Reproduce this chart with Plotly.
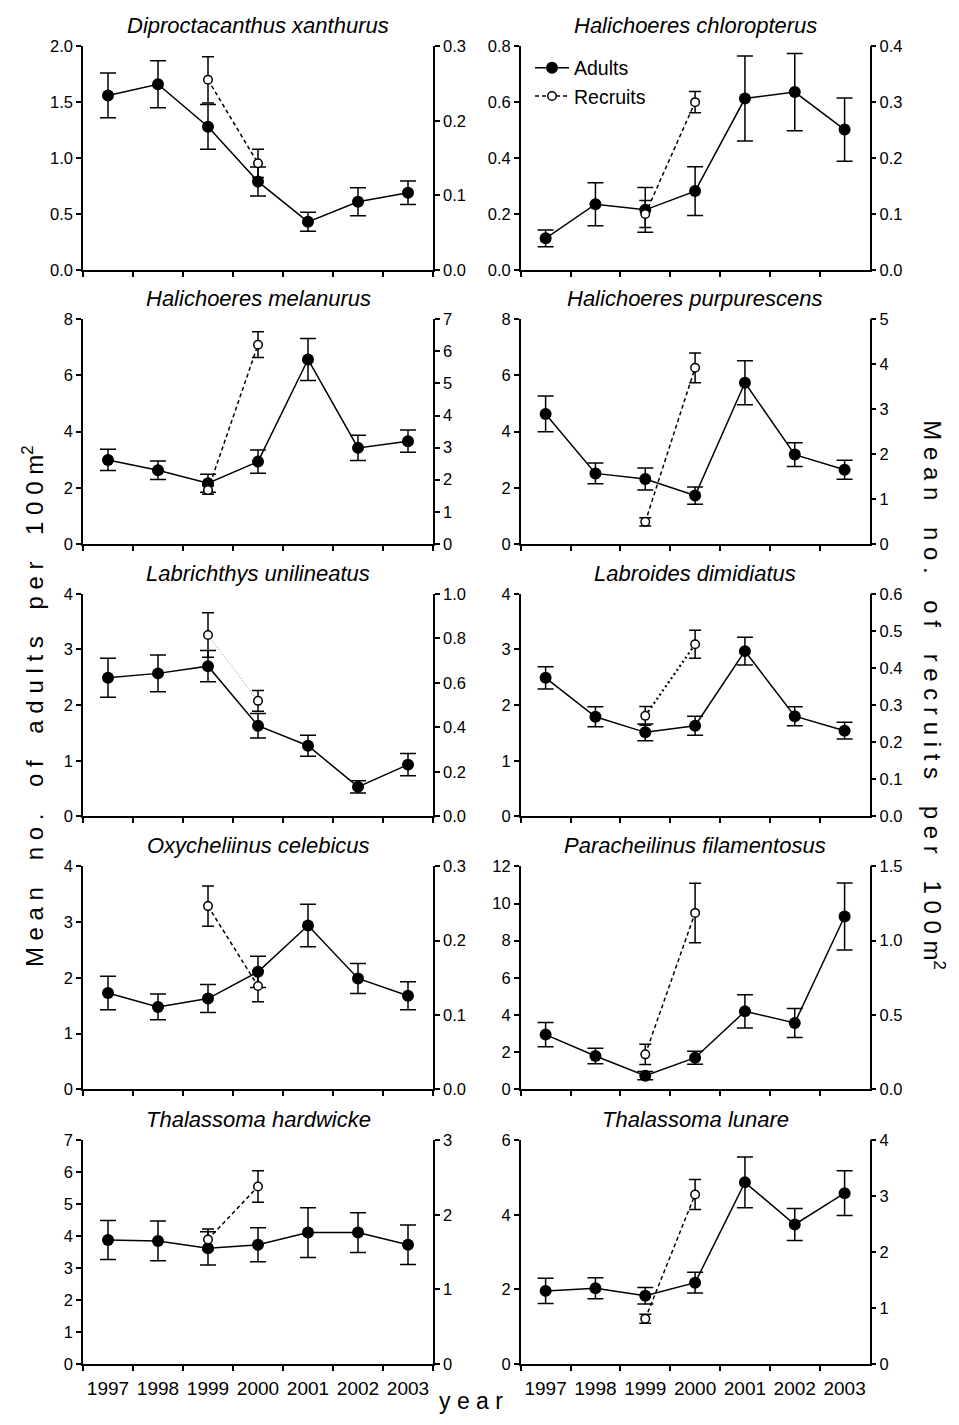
import plotly.graph_objects as go

# Survey years (x categories) and the two years in which recruits were counted
years = ["1997", "1998", "1999", "2000", "2001", "2002", "2003"]
recruit_years = ["1999", "2000"]

# Mean density (per 100 m^2) and standard error, one set of lists per species
dx_adults = [1.56, 1.66, 1.28, 0.79, 0.43, 0.61, 0.69]
dx_adults_se = [0.20, 0.21, 0.20, 0.13, 0.085, 0.125, 0.105]
dx_recruits = [0.255, 0.143]
dx_recruits_se = [0.031, 0.019]

hc_adults = [0.113, 0.235, 0.215, 0.282, 0.613, 0.636, 0.502]
hc_adults_se = [0.03, 0.077, 0.08, 0.087, 0.152, 0.138, 0.113]
hc_recruits = [0.10, 0.30]
hc_recruits_se = [0.024, 0.019]

hm_adults = [2.99, 2.62, 2.16, 2.93, 6.57, 3.42, 3.66]
hm_adults_se = [0.38, 0.33, 0.32, 0.41, 0.75, 0.45, 0.40]
hm_recruits = [1.68, 6.21]
hm_recruits_se = [0.13, 0.40]

hp_adults = [4.63, 2.51, 2.31, 1.72, 5.74, 3.18, 2.64]
hp_adults_se = [0.64, 0.37, 0.39, 0.31, 0.78, 0.42, 0.34]
hp_recruits = [0.49, 3.92]
hp_recruits_se = [0.09, 0.33]

lu_adults = [2.49, 2.57, 2.70, 1.63, 1.27, 0.53, 0.93]
lu_adults_se = [0.35, 0.33, 0.28, 0.22, 0.19, 0.11, 0.20]
lu_recruits = [0.815, 0.519]
lu_recruits_se = [0.10, 0.047]

ld_adults = [2.49, 1.79, 1.51, 1.63, 2.97, 1.80, 1.54]
ld_adults_se = [0.20, 0.18, 0.15, 0.17, 0.25, 0.17, 0.15]
ld_recruits = [0.271, 0.464]
ld_recruits_se = [0.025, 0.038]

oc_adults = [1.73, 1.48, 1.63, 2.11, 2.94, 1.99, 1.68]
oc_adults_se = [0.30, 0.23, 0.25, 0.28, 0.38, 0.27, 0.25]
oc_recruits = [0.2465, 0.139]
oc_recruits_se = [0.027, 0.021]

pf_adults = [2.95, 1.80, 0.74, 1.71, 4.20, 3.58, 9.30]
pf_adults_se = [0.65, 0.42, 0.22, 0.35, 0.90, 0.78, 1.80]
pf_recruits = [0.236, 1.187]
pf_recruits_se = [0.068, 0.20]

th_adults = [3.88, 3.85, 3.62, 3.73, 4.11, 4.11, 3.73]
th_adults_se = [0.61, 0.62, 0.52, 0.53, 0.78, 0.62, 0.62]
th_recruits = [1.67, 2.38]
th_recruits_se = [0.14, 0.21]

tl_adults = [1.96, 2.03, 1.83, 2.18, 4.87, 3.74, 4.58]
tl_adults_se = [0.34, 0.28, 0.22, 0.28, 0.68, 0.43, 0.60]
tl_recruits = [0.81, 3.03]
tl_recruits_se = [0.08, 0.27]

# name, series, left axis (max, step, format), right axis (max, step, format), recruit line style
panels = [
    ("Diproctacanthus xanthurus", dx_adults, dx_adults_se, dx_recruits, dx_recruits_se,
     (2.0, 0.5, ".1f"), (0.3, 0.1, ".1f"), ("4px,3px", 1.5, "black")),
    ("Halichoeres chloropterus", hc_adults, hc_adults_se, hc_recruits, hc_recruits_se,
     (0.8, 0.2, ".1f"), (0.4, 0.1, ".1f"), ("4px,3px", 1.5, "black")),
    ("Halichoeres melanurus", hm_adults, hm_adults_se, hm_recruits, hm_recruits_se,
     (8, 2, "d"), (7, 1, "d"), ("4px,3px", 1.5, "black")),
    ("Halichoeres purpurescens", hp_adults, hp_adults_se, hp_recruits, hp_recruits_se,
     (8, 2, "d"), (5, 1, "d"), ("4px,3px", 1.5, "black")),
    ("Labrichthys unilineatus", lu_adults, lu_adults_se, lu_recruits, lu_recruits_se,
     (4, 1, "d"), (1.0, 0.2, ".1f"), ("1px,2px", 0.8, "#666666")),
    ("Labroides dimidiatus", ld_adults, ld_adults_se, ld_recruits, ld_recruits_se,
     (4, 1, "d"), (0.6, 0.1, ".1f"), ("2px,3px", 2.2, "black")),
    ("Oxycheliinus celebicus", oc_adults, oc_adults_se, oc_recruits, oc_recruits_se,
     (4, 1, "d"), (0.3, 0.1, ".1f"), ("4px,3px", 1.5, "black")),
    ("Paracheilinus filamentosus", pf_adults, pf_adults_se, pf_recruits, pf_recruits_se,
     (12, 2, "d"), (1.5, 0.5, ".1f"), ("4px,3px", 1.5, "black")),
    ("Thalassoma hardwicke", th_adults, th_adults_se, th_recruits, th_recruits_se,
     (7, 1, "d"), (3, 1, "d"), ("4px,3px", 1.5, "black")),
    ("Thalassoma lunare", tl_adults, tl_adults_se, tl_recruits, tl_recruits_se,
     (6, 2, "d"), (4, 1, "d"), ("4px,3px", 1.5, "black")),
]

W, H = 959, 1425
FONT = "Liberation Sans, Arial, Helvetica, sans-serif"
col_px = [(83, 433), (520.7, 869.5)]
row_px = [(37.7, 264.3), (314.3, 541.7), (592.3, 817.7), (868.3, 1094.3), (1145.7, 1372.3)]

fig = go.Figure()
layout = {}
annotations = []

for i, (name, ad, ad_se, rc, rc_se, lax, rax, rstyle) in enumerate(panels):
    row, col = divmod(i, 2)
    xn = i + 1
    yl = 2 * i + 1
    yr = 2 * i + 2
    xs = "" if xn == 1 else str(xn)
    yls = "" if yl == 1 else str(yl)
    yrs = str(yr)
    x0, x1 = col_px[col]
    top, bottom = row_px[row]
    xdom = [x0 / W, x1 / W]
    ydom = [1 - bottom / H, 1 - top / H]

    bottom_row = row == 4
    layout["xaxis" + xs] = dict(
        domain=xdom, anchor="y" + yls, type="category",
        categoryorder="array", categoryarray=years,
        range=[-0.5, 6.5], tickson="boundaries",
        ticks="outside", ticklen=5, tickwidth=1.5, tickcolor="black",
        showline=True, linewidth=1.5, linecolor="black",
        showgrid=False, zeroline=False,
        showticklabels=bottom_row, tickangle=0, ticklabelstandoff=6,
        tickfont=dict(family=FONT, size=19, color="black"),
    )
    lmax, lstep, lfmt = lax
    layout["yaxis" + yls] = dict(
        domain=ydom, anchor="x" + xs, side="left",
        range=[0, lmax], tick0=0, dtick=lstep, tickformat=lfmt,
        ticks="outside", ticklen=5, tickwidth=1.5, tickcolor="black",
        showline=True, linewidth=1.5, linecolor="black",
        showgrid=False, zeroline=False,
        tickfont=dict(family=FONT, size=16.5, color="black"),
    )
    rmax, rstep, rfmt = rax
    layout["yaxis" + yrs] = dict(
        overlaying="y" + yls, anchor="x" + xs, side="right",
        range=[0, rmax], tick0=0, dtick=rstep, tickformat=rfmt,
        ticks="outside", ticklen=5, tickwidth=1.5, tickcolor="black",
        showline=True, linewidth=1.5, linecolor="black",
        showgrid=False, zeroline=False,
        tickfont=dict(family=FONT, size=16.5, color="black"),
    )

    legend_panel = i == 1
    fig.add_trace(go.Scatter(
        x=years, y=ad, xaxis="x" + xs, yaxis="y" + yls,
        mode="lines+markers", name="Adults",
        showlegend=legend_panel, legendgroup="adults",
        line=dict(color="black", width=1.5),
        marker=dict(symbol="circle", size=12, color="black"),
        error_y=dict(type="data", array=ad_se, visible=True,
                     color="black", thickness=1.5, width=8),
        cliponaxis=False,
    ))
    dash, dwidth, dcolor = rstyle
    fig.add_trace(go.Scatter(
        x=recruit_years, y=rc, xaxis="x" + xs, yaxis="y" + yrs,
        mode="lines+markers", name="Recruits",
        showlegend=legend_panel, legendgroup="recruits",
        line=dict(color=dcolor, width=dwidth, dash=dash),
        marker=dict(symbol="circle", size=8.5, color="white",
                    line=dict(color="black", width=1.5)),
        error_y=dict(type="data", array=rc_se, visible=True,
                     color="black", thickness=1.5, width=6),
        cliponaxis=False,
    ))

    annotations.append(dict(
        text="<i>" + name + "</i>", xref="paper", yref="paper",
        x=(x0 + x1) / 2 / W, y=1 - top / H, xanchor="center", yanchor="bottom",
        yshift=6, showarrow=False,
        font=dict(family=FONT, size=22, color="black"),
    ))

sp = "\u00a0"
def spaced(words):
    return (sp * 4).join(sp.join(list(w)) for w in words)

annotations.append(dict(
    text=spaced(["Mean", "no.", "of", "adults", "per", "100m"]) + "<sup>2</sup>",
    xref="paper", yref="paper", x=33 / W, y=1 - 706 / H,
    xanchor="center", yanchor="middle", textangle=-90, showarrow=False,
    font=dict(family=FONT, size=24, color="black"),
))
annotations.append(dict(
    text=spaced(["Mean", "no.", "of", "recruits", "per", "100m"]) + "<sup>2</sup>",
    xref="paper", yref="paper", x=934 / W, y=1 - 695 / H,
    xanchor="center", yanchor="middle", textangle=90, showarrow=False,
    font=dict(family=FONT, size=24, color="black"),
))
annotations.append(dict(
    text=spaced(["year"]),
    xref="paper", yref="paper", x=471 / W, y=1 - 1410 / H,
    xanchor="center", yanchor="middle", showarrow=False,
    font=dict(family=FONT, size=23, color="black"),
))

fig.update_layout(
    width=W, height=H, autosize=False,
    margin=dict(l=0, r=0, t=0, b=0, pad=0),
    paper_bgcolor="white", plot_bgcolor="rgba(0,0,0,0)",
    font=dict(family=FONT, color="black"),
    showlegend=True,
    legend=dict(
        x=530 / W, y=1 - 40 / H, xanchor="left", yanchor="top",
        bgcolor="rgba(0,0,0,0)", borderwidth=0,
        font=dict(family=FONT, size=19.5, color="black"),
        traceorder="grouped", tracegroupgap=0, itemwidth=34,
    ),
    annotations=annotations,
    **layout,
)

fig.write_html("out.html")
